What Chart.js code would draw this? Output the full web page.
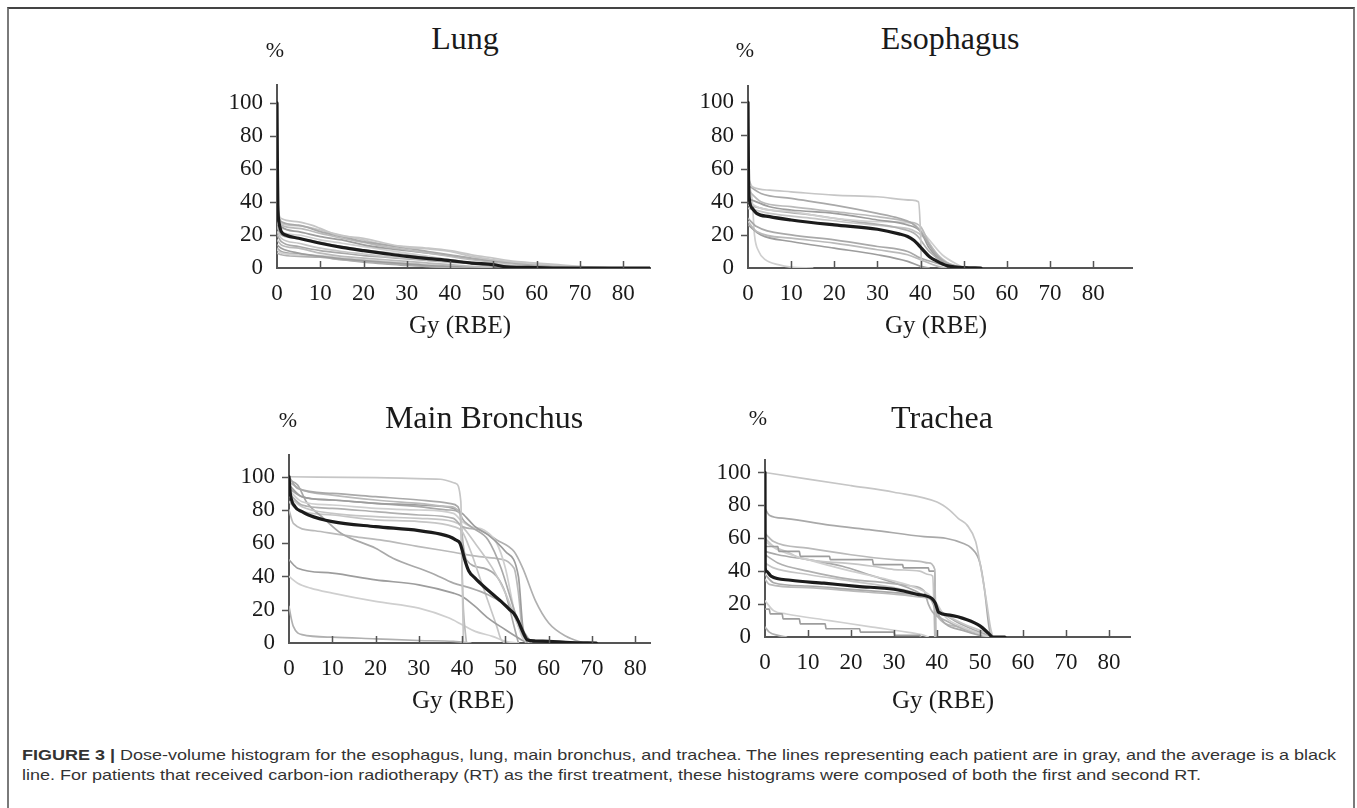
<!DOCTYPE html>
<html>
<head>
<meta charset="utf-8">
<script src="https://cdn.jsdelivr.net/npm/chart.js@4"></script>
<style>
  body { margin: 0; background: #fff; }
  #page { position: relative; width: 1357px; height: 808px; overflow: hidden; }
  #frame { position: absolute; left: 7px; top: 7px; width: 1348px; height: 820px;
           border: 2px solid #7a7a7a; border-top-color: #444; box-sizing: border-box; }
  canvas { position: absolute; }
  .lbl { position: absolute; transform: translate(-50%, -50%); white-space: nowrap;
         font-family: "Liberation Serif", serif; color: #1a1a1a; }
  .title { font-size: 32px; }
  .pct { font-size: 22px; }
  .gy { font-size: 25px; }
  #caption { position: absolute; left: 22px; top: 745px; font-family: "Liberation Sans", Arial, sans-serif;
             font-size: 15px; line-height: 20px; color: #333; white-space: nowrap;
             transform: scaleX(1.2); transform-origin: 0 0; }
</style>
</head>
<body>
<div id="page">
  <div id="frame"></div>
  <div id="caption"><b>FIGURE 3 |</b> Dose-volume histogram for the esophagus, lung, main bronchus, and trachea. The lines representing each patient are in gray, and the average is a black<br>line. For patients that received carbon-ion radiotherapy (RT) as the first treatment, these histograms were composed of both the first and second RT.</div>
</div>
<script>
// axis ticks shared by all four panels
const xTicks = [0, 10, 20, 30, 40, 50, 60, 70, 80];
const yTicks = [0, 20, 40, 60, 80, 100];

// each curve: [dose Gy (RBE), volume %]
const lungMean = [[0,100],[0.1,60],[0.2,38],[0.5,27],[1,22],[2,20],[5,18],[10,15],[15,12.5],[20,10.5],[25,8.7],[30,7],[35,5.7],[40,4.5],[45,3],[50,2],[53,0.7],[56,0.4],[60,0.3],[65,0],[86,0]];
const lungPatients = [
  [[0,40],[0.5,32],[1,30],[5,28],[8,26],[10,24],[14,20],[20,18],[25,15],[30,12.5],[35,11.5],[40,10],[45,7],[50,5],[55,3.5],[60,2.5],[65,1.5],[70,0.8],[78,0]],
  [[0,35],[1,28],[5,26],[10,22],[15,19],[20,16],[25,14],[30,12],[35,10],[40,8],[45,6],[50,4.5],[55,3],[60,2],[68,0.5],[72,0]],
  [[0,33],[1,26],[5,24],[10,21],[15,18],[20,15.5],[25,13],[30,11],[35,9],[40,7],[45,5],[50,3.5],[55,2.5],[62,1],[70,0]],
  [[0,30],[1,25],[5,22],[10,19],[15,17],[20,14],[25,12],[30,10.5],[35,9],[40,7.5],[45,5.5],[50,4],[58,2],[65,0.5],[70,0]],
  [[0,28],[1,22],[5,20],[10,17],[15,15],[20,13],[25,11],[30,9],[35,7],[40,5],[45,3.5],[50,2.5],[55,1.5],[60,0.5],[65,0]],
  [[0,25],[1,20],[5,18],[10,15.5],[15,13],[20,11],[25,9.5],[30,8],[35,6.5],[40,5],[45,3],[50,2],[55,1],[60,0]],
  [[0,22],[1,18],[5,15],[10,12],[15,10],[20,8.5],[25,7],[30,6],[35,5],[40,4],[45,3],[50,2],[56,0.5],[60,0]],
  [[0,20],[1,16],[5,13],[10,10.5],[15,9],[20,7.5],[25,6.5],[30,5.5],[35,4.5],[40,3.5],[45,2.5],[50,1],[55,0]],
  [[0,17],[1,14],[5,12],[10,9],[15,7],[20,6],[25,5],[30,4],[35,3],[40,2],[45,1],[50,0]],
  [[0,14],[1,12],[5,9],[10,7],[15,5.5],[20,4.5],[25,3.5],[30,2.5],[35,1.5],[40,1],[45,0.5],[50,0]],
  [[0,11],[1,9],[5,8],[10,7.5],[15,6],[20,5],[25,4],[30,3],[35,2],[40,1.5],[45,0.5],[48,0]],
  [[0,9],[1,8],[5,7],[10,6.5],[15,5],[20,4],[25,3],[30,2],[35,1],[40,0.5],[44,0]],
  [[0,38],[0.5,30],[1,27],[5,25.5],[10,23],[13,21],[20,17],[25,14],[30,13],[35,12],[40,10.5],[45,8],[50,6],[55,4],[60,3],[65,2],[72,0.5],[80,0]],
  [[0,12],[1,10],[5,8.5],[10,7],[15,5],[20,3.5],[25,2.5],[30,1.5],[35,1],[40,0.3],[42,0]]
];

const esoMean = [[0,100],[0.1,60],[0.3,42],[1,36],[2,33],[5,31],[10,29],[20,26],[30,23.4],[35,20.6],[37,19],[38.5,16.6],[39.5,14],[40.4,11.4],[42,7],[43.9,4],[46,1.5],[47.7,0.7],[50,0.2],[54,0]];
const esoPatients = [
  [[0,55],[1,49],[5,47],[10,46],[20,44],[30,43],[38,41],[39.5,40],[40,20],[40.2,0]],
  [[0,50],[3,45],[10,42],[20,38],[30,33],[35,30],[38,27],[40,22],[43,10],[46,3],[50,0]],
  [[0,47],[3,40],[10,37],[20,34],[30,31],[37,28],[40,25],[42,15],[45,5],[50,0]],
  [[0,42],[5,37],[10,35],[20,33],[30,29],[37,26],[40,22],[42,12],[46,3],[52,0]],
  [[0,40],[3,36],[10,34],[20,30],[30,28],[38,27],[41,20],[45,8],[50,0]],
  [[0,38],[5,35],[15,32],[25,28],[35,24],[39,20],[42,10],[46,2],[48,0]],
  [[0,36],[5,33],[15,30],[25,27],[33,25],[38,23],[41,18],[44,8],[48,0]],
  [[0,30],[2,25],[10,20],[20,17],[30,13],[37,10],[40,6],[45,2],[48,0]],
  [[0,28],[2,22],[10,18],[20,15],[30,11],[37,8],[40,5],[44,1],[46,0]],
  [[0,26],[3,20],[10,16],[20,12],[30,8],[37,4],[40,1],[42,0]],
  [[0,52],[1,40],[1.5,20],[2.5,10],[4,5],[7,2],[10,0.5],[15,0]]
];

const bronMean = [[0,100],[0.3,90],[1.4,82],[3,79],[4.5,77],[10,73],[20,70],[30,67.6],[35,65.5],[37,64],[38.5,62],[39.5,60],[40,56],[40.5,51],[41.5,43.5],[43,39],[45,34],[47,29.5],[49,25],[51,20],[52,17.6],[53,13],[53.8,8],[54.5,4],[55,2],[57,1.2],[60,1],[65,0.3],[71,0]];
const bronPatients = [
  [[0,100],[20,99.5],[35,98.5],[38.5,96],[39.7,85],[40,40],[40.3,0]],
  [[0,100],[2,93],[10,90],[20,88],[30,86],[37,84],[39,82],[40,75],[42,70],[46,62],[49,45],[52,20],[54,5],[56,0]],
  [[0,97],[3,92],[10,89],[20,86],[30,84],[37,82],[39.5,78],[40.3,20],[41,0]],
  [[0,95],[3,88],[10,86],[20,84],[30,83],[38,81],[40,78],[43,70],[46,65],[50,55],[53,40],[54,10],[55,0]],
  [[0,92],[3,85],[10,83],[20,81],[30,80],[38,78],[40,73],[42,70],[45,68],[48,60],[50,45],[52,20],[54,3],[56,0]],
  [[0,90],[3,83],[10,81],[20,79],[30,77],[38,75],[40,70],[44,68],[48,62],[52,55],[54,45],[57,25],[60,12],[64,4],[68,0]],
  [[0,88],[3,82],[10,78],[20,76],[30,75],[38,73],[40,70],[43,60],[47,45],[50,30],[53,10],[55,0]],
  [[0,98],[2,95],[4,85],[8,75],[12,66],[20,57],[24,51],[33,42],[38,36],[42,33],[46,29],[50,23],[52,19],[54,8],[56,0]],
  [[0,80],[1,72],[6,67.5],[15,64],[21,62],[30,58],[38,54.6],[44,52],[47.5,51],[52,45],[53,30],[54,5],[55,0]],
  [[0,50],[2,45],[10,42],[20,38],[30,35],[38,30],[40,28],[43,22],[46,15],[50,8],[53,3],[55,0]],
  [[0,40],[2,36],[5,33],[10,30],[20,25],[30,21],[37,15],[40,11],[43,7],[47,4],[50,1],[53,0]],
  [[0,22],[0.5,15],[1,10],[3,5],[10,3.5],[20,2.5],[30,1.5],[38,1],[40,0.5],[42,0]],
  [[0,85],[2,80],[10,77],[20,74],[30,73],[38,70],[40,67],[42,55],[44,40],[46,25],[48,10],[49,2],[50,0]],
  [[0,93],[3,88],[10,86],[20,84],[30,82],[37,80],[39.5,78],[40.2,60],[41,50],[45,45],[48,40],[50,30],[52,10],[53,0]]
];

const trachMean = [[0,100],[0.05,42],[0.3,40],[1.4,37],[6,34.5],[13.7,32.7],[21.4,30.8],[30,29],[35.3,26],[38.8,23.4],[39.6,20.7],[40.4,15],[43,13.3],[47,10.5],[50,6.8],[52,2.2],[53,0],[55.8,0]];
const trachPatients = [
  [[0,100],[10,96],[20,92],[30,88],[40,82],[43,77],[45,72],[47,68],[49,58],[50,45],[51.5,22],[52.5,5],[53,0]],
  [[0,78],[1,74],[5,72],[15,68],[25,65],[37,61],[42,60],[46,57],[48,54],[50,45],[51,30],[52,8],[52.5,0]],
  [[0,63],[2,58],[10,54],[20,50],[30,47],[36,46],[38,45],[39.5,41],[39.7,0]],
  [[0,55],[3,55],[3.2,52],[8,52],[8.2,49],[15,49],[15.2,47],[25,47],[25.2,44],[32,44],[32.2,42],[38,42],[38.2,40],[39.5,40],[39.7,0]],
  [[0,58],[3,53],[10,47],[20,40],[30,34],[35,30],[38,26],[40,20],[42,12],[46,6],[50,2],[52,0]],
  [[0,50],[3,45],[10,40],[20,35],[28,33],[34,31],[37,28],[38,20],[39,15],[42,10],[46,5],[50,2],[53,0]],
  [[0,45],[2,42],[10,38],[20,34],[30,30],[36,26],[39,22],[40,17],[43,12],[47,7],[51,3],[53,0]],
  [[0,38],[2,33],[10,31],[20,29],[30,27],[35,26],[38,25],[40,15],[42,8],[46,4],[50,1],[52,0]],
  [[0,35],[1,32],[10,30],[20,28],[30,26],[37,24],[39,22],[40,13],[45,6],[50,2],[53,0]],
  [[0,17],[1,17],[1.2,14],[4,14],[4.2,11],[8,11],[8.2,8],[14,8],[14.2,5],[22,5],[22.2,3],[30,3],[30.2,1],[36,1],[36.2,0]],
  [[0,22],[2,16],[5,14],[15,10],[25,6],[33,3],[37,1],[38,0]],
  [[0,6],[1,3],[3,1],[5,0]],
  [[0,60],[2,55],[5,52],[8,48],[13,46],[18,45],[25,43],[30,41],[36,40],[38,38],[39,37],[39.5,0]],
  [[0,52],[3,50],[10,47],[18,43],[24,38],[30,33],[35,28],[37,25],[39,22],[40,18],[44,10],[48,5],[52,1],[53,0]]
];

// styling
const grays = ['#c6c6c6', '#a9a9a9', '#bababa', '#9d9d9d', '#cfcfcf', '#b0b0b0'];
const serif = 'Liberation Serif';

// panel layout: plot area in page pixels
const panels = [
  { title: 'Lung', mean: lungMean, patients: lungPatients, xMax: 86.2, yMax: 111,
    area: { left: 277, top: 67, right: 650, bottom: 268 }, titlePos: [465, 38], pctPos: [275, 50], gyPos: [460, 325] },
  { title: 'Esophagus', mean: esoMean, patients: esoPatients, xMax: 89, yMax: 110,
    area: { left: 748, top: 68, right: 1132, bottom: 268 }, titlePos: [950, 38], pctPos: [745, 50], gyPos: [936, 325] },
  { title: 'Main Bronchus', mean: bronMean, patients: bronPatients, xMax: 83.4, yMax: 113.2,
    area: { left: 289, top: 437, right: 650, bottom: 643 }, titlePos: [484, 417], pctPos: [288, 420], gyPos: [463, 700] },
  { title: 'Trachea', mean: trachMean, patients: trachPatients, xMax: 84.9, yMax: 107.7,
    area: { left: 765, top: 442, right: 1130, bottom: 637 }, titlePos: [942, 417], pctPos: [758, 418], gyPos: [943, 700] }
];

const tickMarks = {
  id: 'tickMarks',
  afterDraw(chart) {
    const ctx = chart.ctx;
    const x = chart.scales.x, y = chart.scales.y;
    const a = chart.chartArea;
    ctx.save();
    ctx.strokeStyle = '#555';
    ctx.lineWidth = 1.5;
    ctx.beginPath();
    xTicks.filter(v => v > 0).forEach(v => {
      const px = Math.round(x.getPixelForValue(v)) + 0.5;
      ctx.moveTo(px, a.bottom);
      ctx.lineTo(px, a.bottom - 7);
    });
    yTicks.filter(v => v > 0).forEach(v => {
      const py = Math.round(y.getPixelForValue(v)) + 0.5;
      ctx.moveTo(a.left - 7, py);
      ctx.lineTo(a.left, py);
    });
    ctx.stroke();
    ctx.restore();
  }
};

const page = document.getElementById('page');

function addLabel(text, pos, cls) {
  const d = document.createElement('div');
  d.className = 'lbl ' + cls;
  d.textContent = text;
  d.style.left = pos[0] + 'px';
  d.style.top = pos[1] + 'px';
  page.appendChild(d);
}

function makePanel(p) {
  const yW = 90, xH = 50, padTop = 10, padRight = 10;
  const cx = p.area.left - yW, cy = p.area.top - padTop;
  const w = p.area.right - cx + padRight;
  const h = p.area.bottom - cy + xH;

  const canvas = document.createElement('canvas');
  canvas.width = w;
  canvas.height = h;
  canvas.style.left = cx + 'px';
  canvas.style.top = cy + 'px';
  canvas.style.width = w + 'px';
  canvas.style.height = h + 'px';
  page.appendChild(canvas);

  const datasets = [{
    data: p.mean.map(pt => ({ x: pt[0], y: pt[1] })),
    borderColor: '#1b1b1b',
    borderWidth: 3.2
  }];
  p.patients.forEach((line, i) => {
    datasets.push({
      data: line.map(pt => ({ x: pt[0], y: pt[1] })),
      borderColor: grays[i % grays.length],
      borderWidth: 1.7
    });
  });

  new Chart(canvas, {
    type: 'line',
    data: { datasets: datasets },
    options: {
      responsive: false,
      animation: false,
      events: [],
      layout: { padding: { left: 0, top: padTop, right: padRight, bottom: 0 } },
      elements: {
        point: { radius: 0 },
        line: { cubicInterpolationMode: 'monotone', borderCapStyle: 'round', borderJoinStyle: 'round' }
      },
      plugins: { legend: { display: false }, tooltip: { enabled: false } },
      scales: {
        x: {
          type: 'linear', min: 0, max: p.xMax,
          afterFit: s => { s.height = xH; },
          afterBuildTicks: s => { s.ticks = xTicks.map(v => ({ value: v })); },
          grid: { display: false, drawTicks: false },
          border: { display: true, color: '#555', width: 2 },
          ticks: { padding: 12, color: '#1a1a1a', font: { family: serif, size: 23 }, maxRotation: 0, autoSkip: false }
        },
        y: {
          type: 'linear', min: 0, max: p.yMax,
          afterFit: s => { s.width = yW; },
          afterBuildTicks: s => { s.ticks = yTicks.map(v => ({ value: v })); },
          grid: { display: false, drawTicks: false },
          border: { display: true, color: '#555', width: 2 },
          ticks: { padding: 14, color: '#1a1a1a', font: { family: serif, size: 23 }, autoSkip: false }
        }
      }
    },
    plugins: [tickMarks]
  });

  addLabel(p.title, p.titlePos, 'title');
  addLabel('%', p.pctPos, 'pct');
  addLabel('Gy (RBE)', p.gyPos, 'gy');
}

panels.forEach(makePanel);
</script>
</body>
</html>
